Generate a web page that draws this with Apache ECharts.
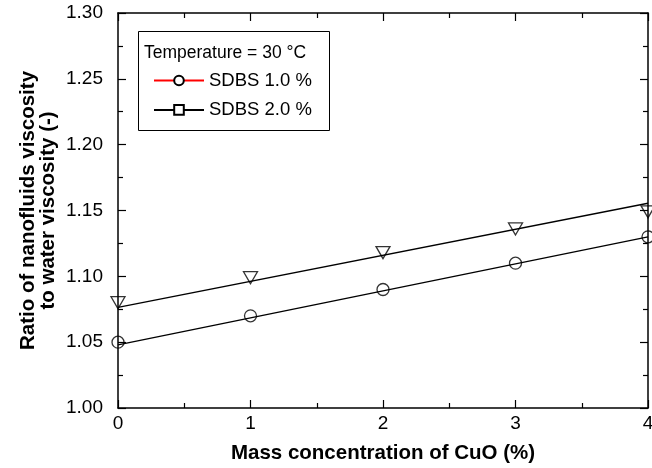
<!DOCTYPE html>
<html>
<head>
<meta charset="utf-8">
<script src="https://cdn.jsdelivr.net/npm/echarts@6/dist/echarts.min.js"></script>
<style>
  html, body { margin: 0; padding: 0; background: #fff; }
  #chart { width: 652px; height: 468px; }
</style>
</head>
<body>
<div id="chart"></div>
<script>
// measured points
var massConc = [0, 1, 2, 3, 4];
var sdbs10 = [1.050, 1.070, 1.090, 1.110, 1.130];
var sdbs20 = [1.080, 1.099, 1.118, 1.136, 1.149];

// fitted lines (end points)
var fitX = [0, 4];
var fit10 = [1.048, 1.130];
var fit20 = [1.0765, 1.1555];

var FONT = '"Liberation Sans", Arial, sans-serif';

function pairs(xs, ys) {
    return xs.map(function (x, i) { return [x, ys[i]]; });
}

var chart = echarts.init(document.getElementById('chart'), null, {renderer: 'canvas'});

var tickStyle = {show: true, inside: true, length: 8, lineStyle: {color: '#000', width: 1.2}};
var minorStyle = {show: true, splitNumber: 2, length: 5, lineStyle: {color: '#000', width: 1.2}};
var lineStyle = {show: true, onZero: false, lineStyle: {color: '#000', width: 1.5}};

var option = {
    animation: false,
    backgroundColor: '#fff',
    textStyle: {fontFamily: FONT},
    grid: {left: 118, right: 4, top: 13, bottom: 60, outerBoundsMode: 'none'},
    graphic: [
        {
            type: 'rect',
            shape: {x: 138.5, y: 31.5, width: 191, height: 99},
            style: {fill: 'none', stroke: '#000', lineWidth: 1},
            z: 100
        },
        {
            type: 'text',
            left: 144, top: 44,
            style: {text: 'Temperature = 30 °C', font: '17.5px ' + FONT, fill: '#000'},
            z: 100
        }
    ],
    legend: {
        orient: 'vertical',
        left: 148, top: 66,
        itemWidth: 50, itemHeight: 12, itemGap: 10.4,
        textStyle: {fontFamily: FONT, fontSize: 18.5, color: '#000'},
        data: ['SDBS 1.0 %', 'SDBS 2.0 %']
    },
    xAxis: [
        {
            type: 'value', min: 0, max: 4, interval: 1,
            name: 'Mass concentration of CuO (%)',
            nameLocation: 'middle', nameGap: 35, nameMoveOverlap: false,
            nameTextStyle: {fontFamily: FONT, fontSize: 20.5, fontWeight: 'bold', color: '#000'},
            axisLine: lineStyle, axisTick: tickStyle, minorTick: minorStyle,
            splitLine: {show: false},
            axisLabel: {fontFamily: FONT, fontSize: 19, color: '#000', margin: 6}
        },
        {
            type: 'value', min: 0, max: 4, interval: 1, position: 'top',
            axisLine: lineStyle, axisTick: tickStyle, minorTick: minorStyle,
            splitLine: {show: false}, axisLabel: {show: false}
        }
    ],
    yAxis: [
        {
            type: 'value', min: 1, max: 1.3, interval: 0.05,
            name: 'Ratio of nanofluids viscosity\nto water viscosity (-)',
            nameLocation: 'middle', nameGap: 60, nameMoveOverlap: false,
            nameTextStyle: {fontFamily: FONT, fontSize: 20.5, fontWeight: 'bold', color: '#000', lineHeight: 20},
            axisLine: lineStyle, axisTick: tickStyle, minorTick: minorStyle,
            splitLine: {show: false},
            axisLabel: {
                fontFamily: FONT, fontSize: 19, color: '#000', margin: 15,
                formatter: function (v) { return v.toFixed(2); }
            }
        },
        {
            type: 'value', min: 1, max: 1.3, interval: 0.05, position: 'right',
            axisLine: lineStyle, axisTick: tickStyle, minorTick: minorStyle,
            splitLine: {show: false}, axisLabel: {show: false}
        }
    ],
    series: [
        // legend-only entries
        {
            name: 'SDBS 1.0 %', type: 'line', data: [],
            symbol: 'circle',
            itemStyle: {color: '#fff', borderColor: '#000', borderWidth: 1.2},
            lineStyle: {color: '#ff0000', width: 1}
        },
        {
            name: 'SDBS 2.0 %', type: 'line', data: [],
            symbol: 'rect',
            itemStyle: {color: '#fff', borderColor: '#000', borderWidth: 1.2},
            lineStyle: {color: '#000', width: 1}
        },
        // fitted lines
        {
            type: 'line', data: pairs(fitX, fit10), showSymbol: false, symbol: 'none',
            lineStyle: {color: '#000', width: 1.3}, z: 2
        },
        {
            type: 'line', data: pairs(fitX, fit20), showSymbol: false, symbol: 'none',
            lineStyle: {color: '#000', width: 1.3}, z: 2
        },
        // measured markers
        {
            type: 'scatter', data: pairs(massConc, sdbs10),
            symbol: 'circle', symbolSize: 12,
            itemStyle: {color: 'rgba(0,0,0,0)', borderColor: '#000', borderWidth: 1.3},
            z: 3
        },
        {
            type: 'scatter', data: pairs(massConc, sdbs20),
            symbol: 'triangle', symbolSize: [14, 12], symbolRotate: 180,
            itemStyle: {color: 'rgba(0,0,0,0)', borderColor: '#000', borderWidth: 1.3},
            z: 3
        }
    ]
};

chart.setOption(option);
</script>
</body>
</html>
